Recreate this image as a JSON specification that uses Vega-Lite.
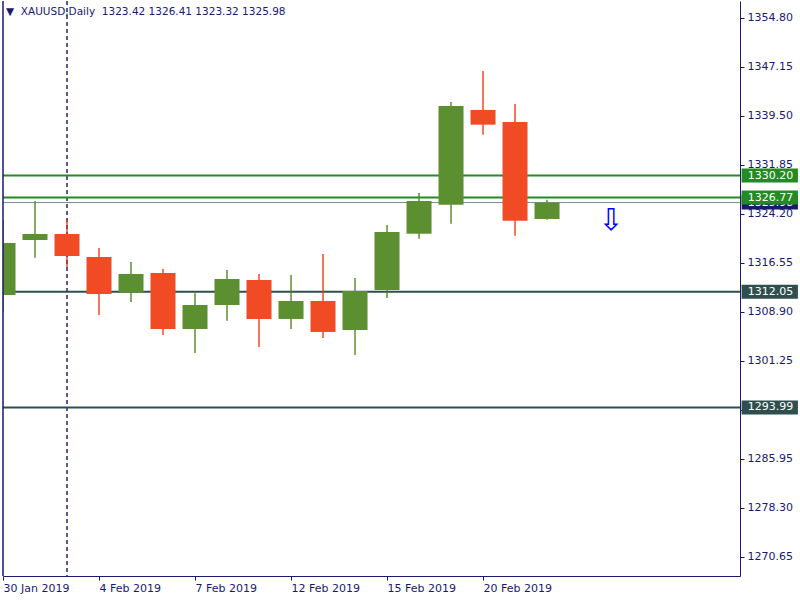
{
  "$schema": "https://vega.github.io/schema/vega-lite/v6.json",
  "width": 737,
  "height": 575,
  "autosize": {"type": "none"},
  "padding": {"left": 3, "top": 1, "right": 60, "bottom": 24},
  "background": "white",
  "config": {"view": {"stroke": null}, "font": "DejaVu Sans"},
  "title": {
    "text": "▼\u00a0\u00a0XAUUSD,Daily\u00a0\u00a01323.42 1326.41 1323.32 1325.98",
    "anchor": "start",
    "frame": "group",
    "offset": -17,
    "dx": 3,
    "fontSize": 10.5,
    "fontWeight": "normal",
    "color": "#191970",
    "font": "DejaVu Sans"
  },
  "datasets": {
    "candles": [
      {"i": 0, "date": "30 Jan 2019", "open": 1311.55, "high": 1323.26, "low": 1308.95, "close": 1319.67},
      {"i": 1, "date": "31 Jan 2019", "open": 1320.14, "high": 1326.23, "low": 1317.38, "close": 1321.08},
      {"i": 2, "date": "1 Feb 2019", "open": 1321.08, "high": 1323.42, "low": 1315.88, "close": 1317.64},
      {"i": 3, "date": "4 Feb 2019", "open": 1317.49, "high": 1318.89, "low": 1308.43, "close": 1311.71},
      {"i": 4, "date": "5 Feb 2019", "open": 1311.91, "high": 1316.71, "low": 1310.46, "close": 1314.83},
      {"i": 5, "date": "6 Feb 2019", "open": 1314.99, "high": 1315.61, "low": 1305.31, "close": 1306.24},
      {"i": 6, "date": "7 Feb 2019", "open": 1306.24, "high": 1311.82, "low": 1302.50, "close": 1309.99},
      {"i": 7, "date": "8 Feb 2019", "open": 1309.99, "high": 1315.46, "low": 1307.54, "close": 1314.05},
      {"i": 8, "date": "11 Feb 2019", "open": 1313.90, "high": 1314.83, "low": 1303.43, "close": 1307.81},
      {"i": 9, "date": "12 Feb 2019", "open": 1307.81, "high": 1314.68, "low": 1306.24, "close": 1310.62},
      {"i": 10, "date": "13 Feb 2019", "open": 1310.62, "high": 1317.95, "low": 1304.84, "close": 1305.78},
      {"i": 11, "date": "14 Feb 2019", "open": 1306.09, "high": 1314.21, "low": 1302.19, "close": 1312.18},
      {"i": 12, "date": "15 Feb 2019", "open": 1312.33, "high": 1322.48, "low": 1311.08, "close": 1321.39},
      {"i": 13, "date": "18 Feb 2019", "open": 1321.12, "high": 1327.48, "low": 1320.34, "close": 1326.23},
      {"i": 14, "date": "19 Feb 2019", "open": 1325.65, "high": 1341.69, "low": 1322.69, "close": 1341.06},
      {"i": 15, "date": "20 Feb 2019", "open": 1340.44, "high": 1346.53, "low": 1336.58, "close": 1338.14},
      {"i": 16, "date": "21 Feb 2019", "open": 1338.56, "high": 1341.37, "low": 1320.81, "close": 1323.15},
      {"i": 17, "date": "22 Feb 2019", "open": 1323.42, "high": 1326.41, "low": 1323.32, "close": 1325.98}
    ],
    "levels": [
      {"price": 1325.98, "kind": "bid"},
      {"price": 1330.20, "kind": "resistance"},
      {"price": 1326.77, "kind": "resistance"},
      {"price": 1312.05, "kind": "support"},
      {"price": 1293.99, "kind": "support"}
    ],
    "separator": [{"i": 2}],
    "border": [{"i": 0}],
    "arrow": [{"i": 19, "price": 1323.1, "sym": "⇩"}]
  },
  "layer": [
    {
      "data": {"name": "candles"},
      "mark": {"type": "rule", "clip": true, "strokeWidth": 1},
      "encoding": {
        "x": {
          "field": "i", "type": "quantitative",
          "scale": {"domain": [0, 23.03], "nice": false, "zero": false, "padding": 0},
          "axis": {
            "title": null,
            "values": [0, 3, 6, 9, 12, 15],
            "labelExpr": "datum.value == 0 ? '30 Jan 2019' : datum.value == 3 ? '4 Feb 2019' : datum.value == 6 ? '7 Feb 2019' : datum.value == 9 ? '12 Feb 2019' : datum.value == 12 ? '15 Feb 2019' : '20 Feb 2019'",
            "labelAlign": "left",
            "labelBaseline": "top",
            "labelPadding": 2,
            "labelFont": "DejaVu Sans",
            "labelFontSize": 11,
            "labelColor": "#191970",
            "labelOverlap": false,
            "labelFlush": false,
            "labelBound": false,
            "tickSize": 4,
            "tickColor": "#191970",
            "domainColor": "#191970",
            "grid": false
          }
        },
        "y": {
          "field": "low", "type": "quantitative",
          "scale": {"domain": [1267.68, 1357.45], "nice": false, "zero": false, "padding": 0},
          "axis": {
            "title": null,
            "orient": "right",
            "values": [1354.80, 1347.15, 1339.50, 1331.85, 1324.20, 1316.55, 1308.90, 1301.25, 1293.60, 1285.95, 1278.30, 1270.65],
            "format": ".2f",
            "labelAlign": "left",
            "labelBaseline": "middle",
            "labelPadding": 3,
            "labelFont": "DejaVu Sans",
            "labelFontSize": 11,
            "labelColor": "#191970",
            "labelOverlap": false,
            "labelFlush": false,
            "labelBound": false,
            "tickSize": 4,
            "tickColor": "#191970",
            "domainColor": "#191970",
            "grid": false
          }
        },
        "y2": {"field": "high"},
        "color": {"condition": {"test": "datum.close >= datum.open", "value": "#5B8F2F"}, "value": "#F04B25"}
      }
    },
    {
      "data": {"name": "separator"},
      "mark": {"type": "rule", "strokeDash": [4, 3], "color": "#000060", "strokeWidth": 1.3},
      "encoding": {
        "x": {"field": "i", "type": "quantitative", "title": null}
      }
    },
    {
      "data": {"name": "levels"},
      "mark": {"type": "rule", "clip": true},
      "encoding": {
        "y": {"field": "price", "type": "quantitative", "title": null},
        "color": {"field": "kind", "type": "nominal", "scale": {"domain": ["bid", "resistance", "support"], "range": ["#778899", "#228B22", "#2F4F4F"]}, "legend": null},
        "strokeWidth": {"condition": {"test": "datum.kind === 'bid'", "value": 1}, "value": 2}
      }
    },
    {
      "data": {"name": "candles"},
      "mark": {"type": "rule", "clip": true, "strokeWidth": 1},
      "encoding": {
        "x": {"field": "i", "type": "quantitative", "title": null},
        "y": {"field": "low", "type": "quantitative", "title": null},
        "y2": {"field": "high"},
        "color": {"condition": {"test": "datum.close >= datum.open", "value": "#5B8F2F"}, "value": "#F04B25"}
      }
    },
    {
      "data": {"name": "candles"},
      "mark": {"type": "bar", "orient": "vertical", "width": 25, "clip": true},
      "encoding": {
        "x": {"field": "i", "type": "quantitative", "title": null},
        "y": {"field": "open", "type": "quantitative", "title": null},
        "y2": {"field": "close"},
        "color": {"condition": {"test": "datum.close >= datum.open", "value": "#5B8F2F"}, "value": "#F04B25"}
      }
    },
    {
      "data": {"name": "arrow"},
      "mark": {"type": "text", "font": "DejaVu Sans", "fontSize": 30, "color": "#0000FF", "baseline": "middle", "align": "center", "clip": true},
      "encoding": {
        "x": {"field": "i", "type": "quantitative", "title": null},
        "y": {"field": "price", "type": "quantitative", "title": null},
        "text": {"field": "sym"}
      }
    },
    {
      "data": {"name": "border"},
      "mark": {"type": "rule", "color": "#191970", "strokeWidth": 1.5},
      "encoding": {
        "x": {"field": "i", "type": "quantitative", "title": null}
      }
    },
    {
      "data": {"name": "levels"},
      "transform": [{"filter": "datum.kind === 'bid'"}],
      "mark": {"type": "bar", "orient": "horizontal", "height": 14, "clip": false, "color": "#191970"},
      "encoding": {
        "x": {"datum": 23.08, "type": "quantitative"},
        "x2": {"datum": 24.84},
        "y": {"field": "price", "type": "quantitative", "title": null}
      }
    },
    {
      "data": {"name": "levels"},
      "transform": [{"filter": "datum.kind === 'bid'"}],
      "mark": {"type": "text", "align": "left", "baseline": "middle", "font": "DejaVu Sans", "fontSize": 11, "color": "#FFFFFF", "clip": false},
      "encoding": {
        "x": {"datum": 23.27, "type": "quantitative"},
        "y": {"field": "price", "type": "quantitative", "title": null},
        "text": {"field": "price", "type": "quantitative", "format": ".2f"}
      }
    },
    {
      "data": {"name": "levels"},
      "transform": [{"filter": "datum.kind !== 'bid'"}],
      "mark": {"type": "bar", "orient": "horizontal", "height": 14, "clip": false},
      "encoding": {
        "x": {"datum": 23.08, "type": "quantitative"},
        "x2": {"datum": 24.84},
        "y": {"field": "price", "type": "quantitative", "title": null},
        "color": {"field": "kind", "type": "nominal", "legend": null}
      }
    },
    {
      "data": {"name": "levels"},
      "transform": [{"filter": "datum.kind !== 'bid'"}],
      "mark": {"type": "text", "align": "left", "baseline": "middle", "font": "DejaVu Sans", "fontSize": 11, "color": "#FFFFFF", "clip": false},
      "encoding": {
        "x": {"datum": 23.27, "type": "quantitative"},
        "y": {"field": "price", "type": "quantitative", "title": null},
        "text": {"field": "price", "type": "quantitative", "format": ".2f"}
      }
    }
  ]
}
